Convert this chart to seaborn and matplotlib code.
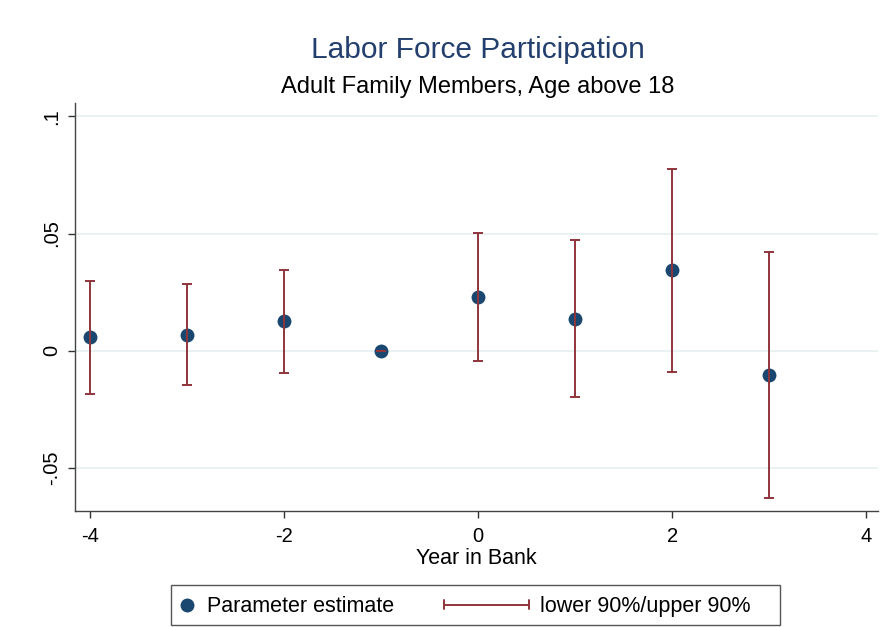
import matplotlib
matplotlib.use("Agg")
import matplotlib.pyplot as plt
import seaborn as sns
import pandas as pd
import numpy as np
from matplotlib.lines import Line2D
from matplotlib.patches import Rectangle
from matplotlib.legend_handler import HandlerLine2D

years = [-4, -3, -2, -1, 0, 1, 2, 3]
estimate = [0.0057, 0.0068, 0.0125, 0.0, 0.0228, 0.0137, 0.0343, -0.0104]
lower90 = [-0.0183, -0.0148, -0.0097, 0.0, -0.0045, -0.0196, -0.0090, -0.0627]
upper90 = [0.0296, 0.0286, 0.0346, 0.0, 0.0501, 0.0472, 0.0777, 0.0420]
yticks = [-0.05, 0, 0.05, 0.1]
yticklabels = ["-.05", "0", ".05", ".1"]
xticks = [-4, -2, 0, 2, 4]

NAVY = "#1a476f"
TITLE = "#233f6e"
MAROON = "#90353b"
GRID = "#e8f0f2"

sns.set_theme(style="white")
plt.rcParams['font.family'] = ['Liberation Sans', 'DejaVu Sans']

df = pd.DataFrame({"year": years, "est": estimate, "lo": lower90, "hi": upper90})

fig = plt.figure(figsize=(8.86, 6.27), dpi=100)
ax = fig.add_axes([0.0847, 0.1855, 0.9063, 0.6502])

for yt in yticks:
    ax.axhline(yt, color=GRID, lw=1.3, zorder=0)

sns.scatterplot(data=df, x="year", y="est", color=NAVY, s=100, edgecolor=NAVY,
                linewidth=0, ax=ax, zorder=3, legend=False)
ax.errorbar(df["year"], df["est"], yerr=[df["est"] - df["lo"], df["hi"] - df["est"]],
            fmt="none", ecolor=MAROON, elinewidth=1.4, capsize=3.4, capthick=1.4, zorder=4)

ax.set_xlim(-4.155, 4.12)
ax.set_ylim(-0.0683, 0.1057)
ax.set_xticks(xticks)
ax.set_xticklabels([str(v) for v in xticks], fontsize=14.5, color="black")
ax.set_yticks(yticks)
ax.set_yticklabels(yticklabels, fontsize=14.5, rotation=90, va="center", color="black")
ax.tick_params(axis="x", which="both", direction="out", length=5, width=1,
               color="#333333", bottom=True, pad=7)
ax.tick_params(axis="y", which="both", direction="out", length=5, width=1,
               color="#333333", left=True, pad=5)
for s in ["top", "right"]:
    ax.spines[s].set_visible(False)
for s in ["left", "bottom"]:
    ax.spines[s].set_color("#444444")
    ax.spines[s].set_linewidth(1.0)

ax.set_xlabel("Year in Bank", fontsize=15.5, labelpad=1, color="black")
ax.set_ylabel("")

fig.text(0.539, 0.921, "Labor Force Participation", ha="center", va="center",
         fontsize=21.5, color=TITLE)
fig.text(0.539, 0.862, "Adult Family Members, Age above 18", ha="center", va="center",
         fontsize=17, color="black")


class HandlerCap(HandlerLine2D):
    def create_artists(self, legend, orig_handle, xdescent, ydescent, width, height,
                       fontsize, trans):
        y = height / 2 - ydescent
        x1 = -xdescent + width
        x0 = x1 - 3.95 * fontsize
        ln = Line2D([x0, x1], [y, y], color=MAROON, lw=1.4, transform=trans)
        c = 0.22 * fontsize
        c0 = Line2D([x0, x0], [y - c, y + c], color=MAROON, lw=1.4, transform=trans)
        c1 = Line2D([x1, x1], [y - c, y + c], color=MAROON, lw=1.4, transform=trans)
        return [ln, c0, c1]


h1 = Line2D([], [], marker="o", color=NAVY, linestyle="none", markersize=9)
h2 = Line2D([], [], color=MAROON, lw=1.4)
leg = fig.legend([h1, h2], ["Parameter estimate", "lower 90%/upper 90%"],
                 loc="center left", bbox_to_anchor=(157.4 / 886, 0.0325), ncol=2,
                 fontsize=15.5, frameon=False, handlelength=0.8,
                 columnspacing=5.43, handletextpad=0.55, borderpad=0.47,
                 handler_map={h1: HandlerLine2D(numpoints=1), h2: HandlerCap()})
for t in leg.get_texts():
    t.set_color("black")

fig.add_artist(Rectangle((171 / 886, 1 - 625 / 627), 609 / 886, 40 / 627,
                         transform=fig.transFigure, fill=False, ec="#555555", lw=1.0))

fig.savefig("out.png", dpi=100, facecolor="white")
